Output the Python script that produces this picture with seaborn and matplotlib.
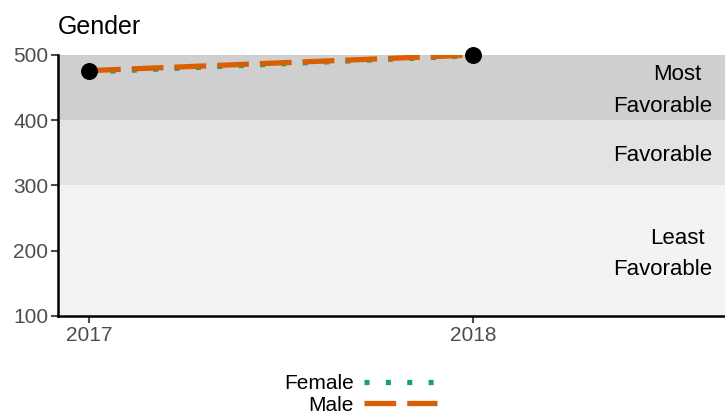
import pandas as pd
import seaborn as sns
import matplotlib.pyplot as plt

years = [2017, 2018]
female = [474, 499]
male = [476, 500]
point_years = [2017, 2018]
point_vals = [475, 500]

band_lo = [100, 300, 400]
band_hi = [300, 400, 500]
band_colors = ["#f3f3f3", "#e3e3e3", "#cfcfcf"]
band_labels = [["Least", "Favorable"], ["Favorable"], ["Most", "Favorable"]]

df = pd.DataFrame({
    "year": years * 2,
    "score": female + male,
    "gender": ["Female"] * len(years) + ["Male"] * len(years),
})

sns.set_theme(style="ticks")
plt.rcParams['font.family'] = ['Liberation Sans', 'DejaVu Sans']
plt.rcParams['text.color'] = 'black'

fig, ax = plt.subplots(figsize=(7.25, 4.15), dpi=100)
fig.subplots_adjust(left=0.08, right=1.0, top=0.8675, bottom=0.2386)

for lo, hi, col, lines in zip(band_lo, band_hi, band_colors, band_labels):
    ax.axhspan(lo, hi, color=col, zorder=0, lw=0)
    mid = (lo + hi) / 2 - 4.5
    if len(lines) == 1:
        ax.text(2018.495, mid, lines[0], ha="center", va="center", fontsize=16, color="black")
    else:
        ax.text(2018.531, mid + 24, lines[0], ha="center", va="center", fontsize=16, color="black")
        ax.text(2018.495, mid - 24, lines[1], ha="center", va="center", fontsize=16, color="black")

sns.lineplot(data=df, x="year", y="score", hue="gender", style="gender",
             palette={"Female": "#1b9e77", "Male": "#d95f02"},
             dashes={"Female": (0.95, 3.1), "Male": (6, 2.1)},
             linewidth=3.8, ax=ax, zorder=3, legend=True)
ax.scatter(point_years, point_vals, s=125, color="black", zorder=4, clip_on=False)

ax.set_xlim(2016.919, 2018.656)
ax.set_ylim(100, 500)
ax.set_xticks(years)
ax.set_yticks([100, 200, 300, 400, 500])
ax.set_xlabel("")
ax.set_ylabel("")
ax.tick_params(labelsize=15, colors="#4d4d4d", length=5, width=1.5)
ax.tick_params(axis="x", pad=2)
ax.tick_params(axis="y", pad=2)
for s in ["top", "right"]:
    ax.spines[s].set_visible(False)
for s in ["left", "bottom"]:
    ax.spines[s].set_linewidth(1.8)
    ax.spines[s].set_color("black")
ax.set_title("Gender", loc="left", fontsize=18, x=0.0, pad=15, color="black")

handles, labels = ax.get_legend_handles_labels()
ax.get_legend().remove()
leg = fig.legend(handles, labels, loc="center", bbox_to_anchor=(0.497, 0.05),
                 frameon=False, markerfirst=False, fontsize=15, handlelength=3.5,
                 labelspacing=0.12, handletextpad=0.5)
for t in leg.get_texts():
    t.set_ha("right")
    t.set_color("black")

fig.savefig("out.png", dpi=100)
